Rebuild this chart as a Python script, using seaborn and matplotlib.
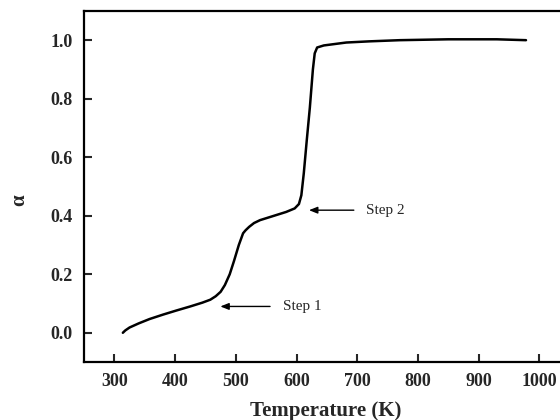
import matplotlib
matplotlib.use("Agg")
import matplotlib.pyplot as plt
import pandas as pd
import seaborn as sns

# conversion curve
temperature = [314, 318, 325, 340, 358, 380, 402, 425, 445, 458, 467, 475, 482,
               490, 497, 505, 512, 516, 522, 530, 540, 560, 583, 597, 604, 608,
               612, 617, 622, 627, 630, 634, 645, 682, 720, 770, 850, 930, 978]
alpha = [0.0, 0.008, 0.018, 0.032, 0.047, 0.062, 0.076, 0.090, 0.103, 0.113,
         0.125, 0.14, 0.163, 0.20, 0.245, 0.30, 0.34, 0.35, 0.362, 0.375, 0.385,
         0.398, 0.413, 0.425, 0.44, 0.47, 0.545, 0.66, 0.77, 0.90, 0.955, 0.975,
         0.982, 0.992, 0.996, 1.0, 1.003, 1.003, 1.0]

step_labels = ["Step 1", "Step 2"]
step_points = [(470, 0.09), (616, 0.419)]
step_text = [(577, 0.09), (715, 0.419)]

xticks = [300, 400, 500, 600, 700, 800, 900, 1000]
yticks = [0.0, 0.2, 0.4, 0.6, 0.8, 1.0]

df = pd.DataFrame({"T": temperature, "alpha": alpha})

sns.set_style("ticks")
plt.rcParams["font.family"] = ["Liberation Serif", "DejaVu Serif"]

fig = plt.figure(figsize=(5.6, 4.2), dpi=100)
ax = fig.add_axes([0.15, 0.138, 0.85, 0.836])

sns.lineplot(data=df, x="T", y="alpha", color="black", linewidth=1.8, ax=ax)

for label, pt, txt in zip(step_labels, step_points, step_text):
    ax.annotate("", xy=pt, xytext=(txt[0] - 16, txt[1]),
                arrowprops=dict(arrowstyle="-|>,head_length=0.5,head_width=0.2",
                                color="black", lw=1.0))
    ax.text(txt[0], txt[1], label, fontsize=11, va="center", ha="left")

ax.set_xlim(250, 1034)
ax.set_ylim(-0.1, 1.1)
ax.set_xticks(xticks)
ax.set_yticks(yticks)
ax.set_xticklabels([str(t) for t in xticks], fontweight="bold", fontsize=13)
ax.set_yticklabels([f"{t:.1f}" for t in yticks], fontweight="bold", fontsize=13)
ax.tick_params(direction="in", length=6, width=1.5, pad=8)

ax.set_xlabel("Temperature (K)", fontweight="bold", fontsize=15)
ax.set_ylabel("α", fontweight="bold", fontsize=15)
ax.xaxis.set_label_coords(0.508, -0.112)
ax.yaxis.set_label_coords(-0.115, 0.46)

for side in ["left", "bottom", "top"]:
    ax.spines[side].set_linewidth(1.6)
    ax.spines[side].set_color("black")
ax.spines["right"].set_visible(False)

fig.savefig("out.png", dpi=100)
